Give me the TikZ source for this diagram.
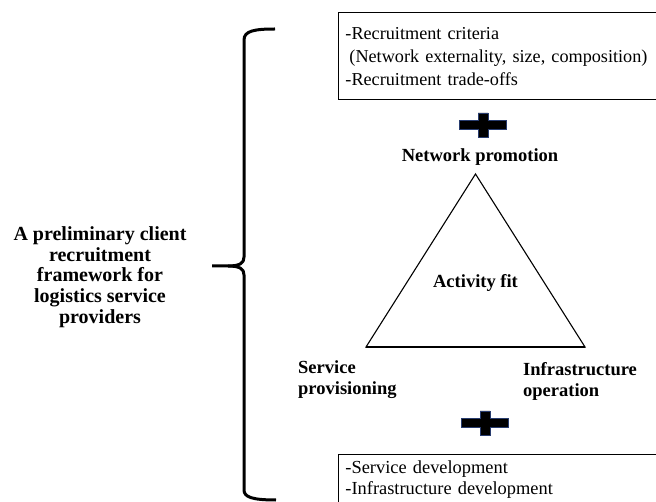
\documentclass[tikz,border=0pt]{standalone}
\usepackage{fontspec}
\setmainfont{Liberation Serif}
\usetikzlibrary{positioning}
\definecolor{plusblue}{RGB}{40,60,110}

\begin{document}
\begin{tikzpicture}[
        x=1pt, y=-1pt,
        textbox/.style={rectangle, draw=black, line width=0.9pt, anchor=north west, align=left,
            inner xsep=7pt, text width=328pt, font=\fontsize{18.2}{23}\selectfont},
        corner/.style={inner sep=0pt, font=\fontsize{18.5}{21}\selectfont\bfseries},
        brace/.style={line width=3pt},
        plussign/.pic={
            \filldraw[fill=black, draw=plusblue, line width=0.8pt]
                (-23.5,-4.5) -- (-5,-4.5) -- (-5,-12) -- (5,-12) -- (5,-4.5) -- (23.5,-4.5)
                -- (23.5,4.5) -- (5,4.5) -- (5,12) -- (-5,12) -- (-5,4.5) -- (-23.5,4.5) -- cycle;
        }
    ]
    \useasboundingbox (0,0) rectangle (656,502);

    % boxes on the right, running off the page
    \node[textbox, minimum height=86.5pt] (criteria) at (338,12.5)
        {-Recruitment criteria\\\hspace*{4pt}(Network externality, size, composition)\\-Recruitment trade-offs};
    \node[textbox, font=\fontsize{18.4}{21}\selectfont, inner ysep=6pt, text depth=34pt] (development) at (338,454)
        {-Service development\\-Infrastructure development};

    % the triangle
    \coordinate (apex) at (475.5,174);
    \coordinate (left) at (366,347);
    \coordinate (right) at (585,347);
    \draw[line width=1.1pt] (apex) -- (left) -- (right) -- cycle;
    \draw[line width=1.8pt] (left) -- (right);

    \node[corner, above=8.5pt of apex, xshift=4.5pt] (promotion) {Network promotion};
    \node[corner] (fit) at (475.5,283) {Activity fit};
    \node[corner, align=left, anchor=west] (service) at (298,380) {Service\\provisioning};
    \node[corner, align=left, anchor=west] (infra) at (523,381) {Infrastructure\\operation};

    \pic at (483,125) {plussign};
    \pic at (485,423) {plussign};

    % brace and its label
    \node[align=center, font=\fontsize{20}{20.7}\selectfont\bfseries] (framework) at (100,277)
        {A preliminary client\\recruitment\\framework for\\logistics service\\providers};
    \draw[brace] (275,29) .. controls (254,29) and (244,31) .. (244,40) -- (244,257)
        .. controls (244,263) and (240,266) .. (228,266) -- (212,266);
    \draw[brace] (228,266) .. controls (240,266) and (244,269) .. (244,275) -- (244,490)
        .. controls (244,497) and (252,500) .. (276,500);
\end{tikzpicture}
\end{document}
